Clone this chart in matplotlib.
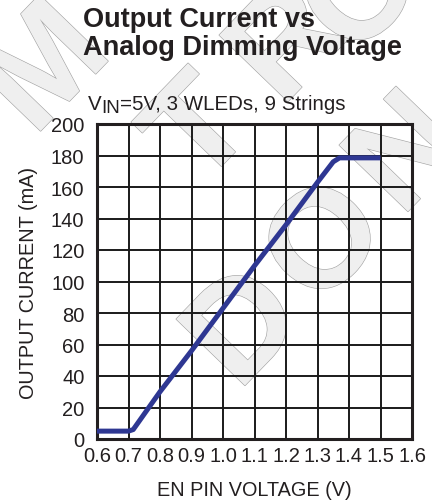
import matplotlib
matplotlib.use("Agg")
import matplotlib.pyplot as plt
import matplotlib.patheffects as pe

plt.rcParams['font.family'] = ['Liberation Sans', 'DejaVu Sans']

# data
voltage = [0.60, 0.70, 0.715, 0.80, 0.90, 1.00, 1.10, 1.20, 1.30, 1.35, 1.37, 1.50]
current = [5.0, 5.0, 6.0, 30.0, 56.0, 83.0, 110.0, 136.0, 163.0, 176.0, 178.5, 178.5]

x_ticks = [0.6, 0.7, 0.8, 0.9, 1.0, 1.1, 1.2, 1.3, 1.4, 1.5, 1.6]
x_labels = ["0.6", "0.7", "0.8", "0.9", "1.0", "1.1", "1.2", "1.3", "1.4", "1.5", "1.6"]
y_ticks = [0, 20, 40, 60, 80, 100, 120, 140, 160, 180, 200]

# watermark letters (pixel centres, top-left origin)
wm_letters = ["M", "T", "R", "O", "D", "O", "N"]
wm_centres = [(38, 62), (192, 125), (280, 38), (355, -12), (237, 322), (318, 237), (400, 148)]

W, H = 432, 502
INK = '#231f20'
fig = plt.figure(figsize=(W / 100, H / 100), dpi=100)

# -------------------------------
# WATERMARK (behind everything)
# -------------------------------
for ch, (px, py) in zip(wm_letters, wm_centres):
    fig.text(px / W, 1 - py / H, ch, fontsize=100, fontweight='bold',
             rotation=46, rotation_mode='anchor', ha='center', va='center_baseline',
             color='#efefef', zorder=-5,
             path_effects=[pe.Stroke(linewidth=0.9, foreground='#a5a5a5'), pe.Normal()])

# -------------------------------
# MAIN AXES
# -------------------------------
ax = fig.add_axes([97 / W, 1 - 440 / H, 315 / W, 315 / H])
ax.set_facecolor('none')

ax.plot(voltage, current, color='#2e3792', lw=3.6, solid_capstyle='butt',
        solid_joinstyle='round', zorder=3)

ax.set_xlim(0.6, 1.6)
ax.set_ylim(0, 200)
ax.set_xticks(x_ticks)
ax.set_xticklabels(x_labels)
ax.set_yticks(y_ticks)
ax.grid(True, color='#1a1a1a', lw=1.4)
ax.set_axisbelow(True)
ax.tick_params(length=0, labelsize=14.5, colors=INK)
ax.tick_params(axis='x', pad=5)
ax.tick_params(axis='y', pad=9)
for s in ax.spines.values():
    s.set_linewidth(2.2)
    s.set_color(INK)

ax.set_xlabel("EN PIN VOLTAGE (V)", fontsize=14.3, color=INK, labelpad=11)
ax.set_ylabel("OUTPUT CURRENT (mA)", fontsize=14.3, color=INK, labelpad=9)

fig.text(83 / W, 1 - 7 / H, "Output Current vs\nAnalog Dimming Voltage",
         fontsize=19.5, fontweight='bold', color=INK, va='top', ha='left',
         linespacing=1.1)

# subtitle with a near full-size subscript
renderer = fig.canvas.get_renderer()
sx, sy = 88, 110
pieces = [("V", 0), ("IN", 3), ("=5V, 3 WLEDs, 9 Strings", 0)]
for txt, dy in pieces:
    t = fig.text(sx / W, 1 - (sy + dy) / H, txt, fontsize=14.8 if dy == 0 else 13.5,
                 color=INK, va='baseline', ha='left')
    sx += t.get_window_extent(renderer).width

fig.savefig("out.png", dpi=100)
